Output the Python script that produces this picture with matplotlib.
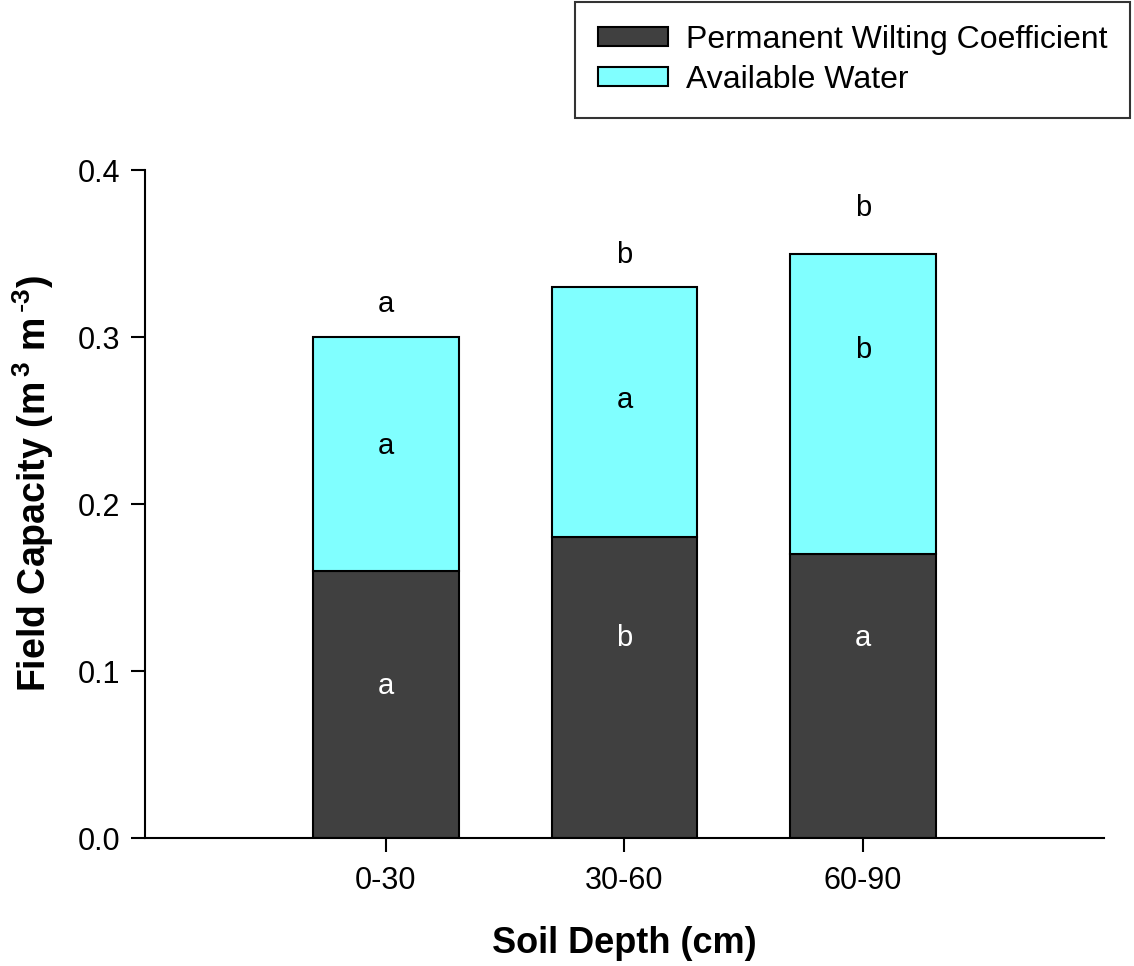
import numpy as np
import matplotlib
matplotlib.use('Agg')
import matplotlib.pyplot as plt

plt.rcParams['font.family'] = ['Liberation Sans', 'DejaVu Sans']

depths = ['0-30', '30-60', '60-90']
pwc = [0.16, 0.18, 0.17]
aw = [0.14, 0.15, 0.18]

# significance letters and where they sit (y in data units)
top_letters = ['a', 'b', 'b']
top_y = [0.320, 0.349, 0.377]
aw_letters = ['a', 'a', 'b']
aw_y = [0.235, 0.262, 0.292]
pwc_letters = ['a', 'b', 'a']
pwc_y = [0.091, 0.120, 0.120]

dark = '#404040'
cyan = '#80FFFF'

fig = plt.figure(figsize=(11.34, 9.66), dpi=100)
ax = fig.add_axes([0.1279, 0.1325, 0.9735 - 0.1279, 0.824 - 0.1325])

x = np.arange(len(depths))
w = 0.61
b1 = ax.bar(x, pwc, w, color=dark, edgecolor='black', linewidth=1.5,
            label='Permanent Wilting Coefficient')
b2 = ax.bar(x, aw, w, bottom=pwc, color=cyan, edgecolor='black', linewidth=1.5,
            label='Available Water')

for i in range(len(depths)):
    ax.text(x[i], top_y[i], top_letters[i], ha='center', va='center', fontsize=21)
    ax.text(x[i], aw_y[i], aw_letters[i], ha='center', va='center', fontsize=21)
    ax.text(x[i], pwc_y[i], pwc_letters[i], ha='center', va='center', fontsize=21,
            color='white')

ax.set_xlim(-1.01, 3.01)
ax.set_ylim(0, 0.4)
ax.set_xticks(x)
ax.set_xticklabels(depths)
ax.set_yticks([0.0, 0.1, 0.2, 0.3, 0.4])
ax.set_yticklabels(['0.0', '0.1', '0.2', '0.3', '0.4'])
ax.tick_params(axis='both', labelsize=22, length=10, width=1.5, direction='out')
ax.tick_params(axis='y', pad=8)
ax.tick_params(axis='x', pad=10)
for s in ['top', 'right']:
    ax.spines[s].set_visible(False)
for s in ['left', 'bottom']:
    ax.spines[s].set_linewidth(1.5)

ax.set_ylabel('Field Capacity (m$^{\\mathregular{\\,3}}$ m$^{\\mathregular{\\,\\text{-}3}}$)',
              fontsize=27, fontweight='bold')
ax.yaxis.set_label_coords(-0.093, 0.53)
ax.set_xlabel('Soil Depth (cm)', fontsize=26, fontweight='bold', labelpad=22)

leg = fig.legend(handles=[b1, b2], loc='upper right',
                 bbox_to_anchor=(1130 / 1134, 1 - 2 / 966),
                 fontsize=23, frameon=True, fancybox=False, edgecolor='black',
                 handlelength=2.2, handleheight=0.55, handletextpad=0.55,
                 borderpad=0.72, labelspacing=0.3, borderaxespad=0)
leg.get_frame().set_linewidth(1.5)

fig.savefig('out.png', dpi=100)
